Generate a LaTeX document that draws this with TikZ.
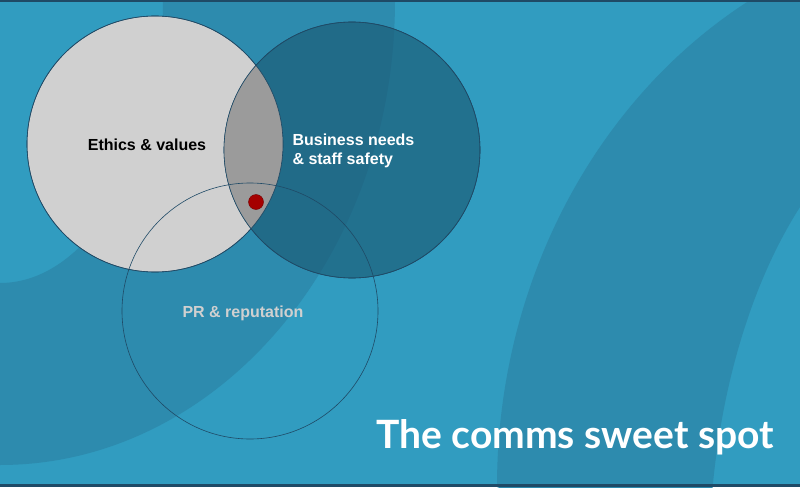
\documentclass[tikz,border=0pt]{standalone}
\usepackage{fontspec}
\setmainfont{Liberation Sans}
\newfontfamily\titlefont{Lato}
\usetikzlibrary{positioning}
\definecolor{bgblue}{HTML}{319CC0}
\definecolor{bandblue}{HTML}{2D8BAE}
\definecolor{ethicsgray}{HTML}{D0D0D0}
\definecolor{overlapgray}{HTML}{9B9B9B}
\definecolor{bizteal}{HTML}{1B5A74}
\definecolor{rimblue}{HTML}{1F4A66}
\definecolor{spotred}{HTML}{A50000}
\tikzset{
  venn/.style={circle, draw=rimblue, line width=0.6pt, minimum size=256pt, inner sep=0pt},
  lbl/.style={font=\bfseries\fontsize{16}{19}\selectfont, align=left}
}

\begin{document}
\begin{tikzpicture}[x=1pt, y=-1pt]
    % Background
    \fill[bgblue] (0,0) rectangle (800,487);
    \useasboundingbox (0,0) rectangle (800,487);
    \fill[bandblue] (163,0) arc[start angle=0, end angle=90, x radius=163, y radius=283]
        -- (0,465) arc[start angle=90, end angle=0, x radius=395, y radius=465] -- cycle;
    \fill[bandblue] (497,487) arc[start angle=180, end angle=255, x radius=503, y radius=561]
        -- (800,207) arc[start angle=229, end angle=180, x radius=265, y radius=477] -- cycle;
    \fill[rimblue] (0,0) rectangle (800,2);
    \fill[rimblue] (0,484) rectangle (800,487);

    % Circles
    \node[venn, fill=ethicsgray] (ethics) at (155,144) {};
    \node[venn, fill=bizteal, fill opacity=0.65] (business) at (352,150) {};
    \begin{scope}
        \clip (155,144) circle (128);
        \fill[overlapgray] (352,150) circle (128);
    \end{scope}
    \draw[rimblue, line width=0.6pt] (155,144) circle (128);
    \draw[rimblue, line width=0.6pt] (352,150) circle (128);
    \node[venn] (pr) at (250,311) {};

    % Sweet spot
    \node[circle, fill=spotred, draw=spotred!70!black, minimum size=15pt, inner sep=0pt] (spot) at (256,202) {};

    % Labels
    \node[lbl, text=black] (ethicslbl) at (147,145) {Ethics \& values};
    \node[lbl, text=white, anchor=west] (bizlbl) at (289,151) {Business needs\\\& staff safety};
    \node[lbl, text=ethicsgray] (prlbl) at (243,313) {PR \& reputation};
    \node[text=white, font=\titlefont\bfseries\fontsize{39}{44}\selectfont] (title) at (575,437) {The comms sweet spot};
\end{tikzpicture}
\end{document}
